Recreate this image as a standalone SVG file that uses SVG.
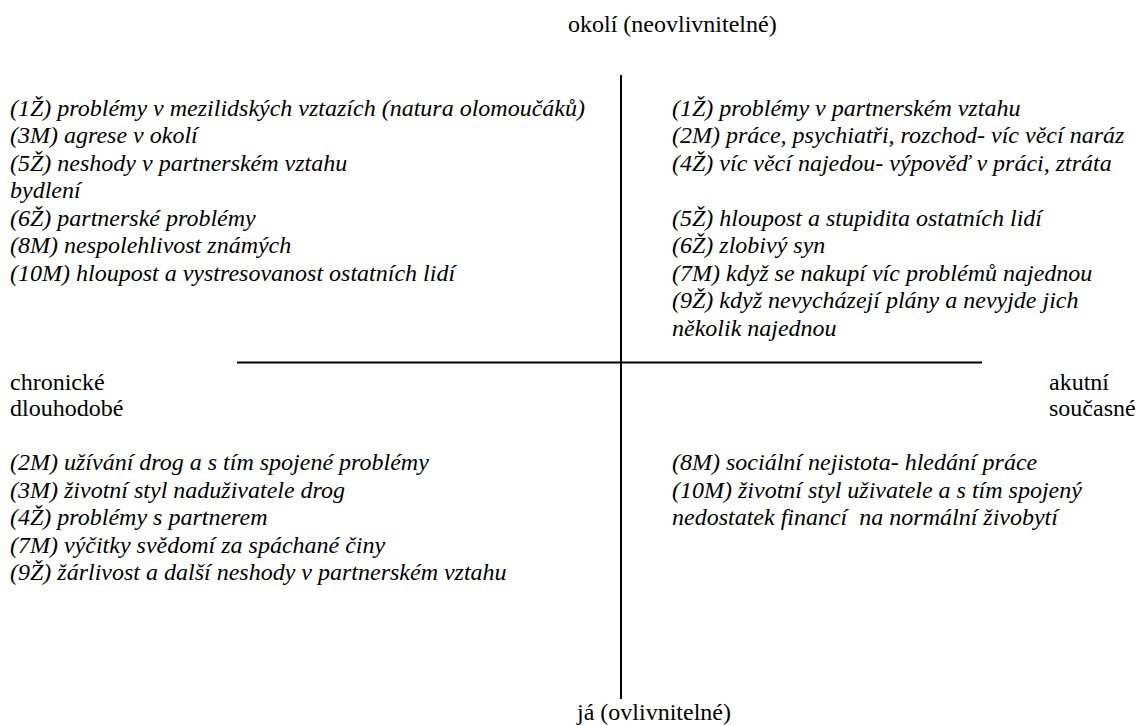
<svg xmlns="http://www.w3.org/2000/svg" width="1139" height="725" viewBox="0 0 1139 725" font-family="'Liberation Serif', 'Times New Roman', serif" font-size="24">
<style>
text{font-family:'Liberation Serif','Times New Roman',serif;font-size:24px;fill:#000;white-space:pre}
.it{font-style:italic}
.ax{stroke:#000;stroke-width:2;fill:none}
</style>
<rect width="1139" height="725" fill="#fff"/>
<g id="axes">
<line class="ax" x1="621" y1="75" x2="621" y2="699"/>
<line class="ax" x1="237" y1="362.5" x2="982" y2="362.5"/>
</g>
<g id="label-top"><text x="568" y="32">okolí (neovlivnitelné)</text></g>
<g id="label-bottom"><text x="577" y="720">já (ovlivnitelné)</text></g>
<g id="label-left"><text x="10" y="390">chronické</text><text x="10" y="416">dlouhodobé</text></g>
<g id="label-right"><text x="1049" y="390">akutní</text><text x="1049" y="416">současné</text></g>
<g id="quadrant-top-left">
<text class="it" x="10" y="115.5">(1Ž) problémy v mezilidských vztazích (natura olomoučáků)</text>
<text class="it" x="10" y="143">(3M) agrese v okolí</text>
<text class="it" x="10" y="170.5">(5Ž) neshody v partnerském vztahu</text>
<text class="it" x="10" y="198">bydlení</text>
<text class="it" x="10" y="225.5">(6Ž) partnerské problémy</text>
<text class="it" x="10" y="253">(8M) nespolehlivost známých</text>
<text class="it" x="10" y="280.5">(10M) hloupost a vystresovanost ostatních lidí</text>
</g>
<g id="quadrant-top-right">
<text class="it" x="672" y="115.5">(1Ž) problémy v partnerském vztahu</text>
<text class="it" x="672" y="143">(2M) práce, psychiatři, rozchod- víc věcí naráz</text>
<text class="it" x="672" y="170.5">(4Ž) víc věcí najedou- výpověď v práci, ztráta</text>
<text class="it" x="672" y="225.5">(5Ž) hloupost a stupidita ostatních lidí</text>
<text class="it" x="672" y="253">(6Ž) zlobivý syn</text>
<text class="it" x="672" y="280.5">(7M) když se nakupí víc problémů najednou</text>
<text class="it" x="672" y="308">(9Ž) když nevycházejí plány a nevyjde jich</text>
<text class="it" x="672" y="335.5">několik najednou</text>
</g>
<g id="quadrant-bottom-left">
<text class="it" x="10" y="470">(2M) užívání drog a s tím spojené problémy</text>
<text class="it" x="10" y="497.5">(3M) životní styl naduživatele drog</text>
<text class="it" x="10" y="525">(4Ž) problémy s partnerem</text>
<text class="it" x="10" y="552.5">(7M) výčitky svědomí za spáchané činy</text>
<text class="it" x="10" y="580">(9Ž) žárlivost a další neshody v partnerském vztahu</text>
</g>
<g id="quadrant-bottom-right">
<text class="it" x="672" y="470">(8M) sociální nejistota- hledání práce</text>
<text class="it" x="672" y="497.5">(10M) životní styl uživatele a s tím spojený</text>
<text class="it" x="672" y="525">nedostatek financí  na normální živobytí</text>
</g>
</svg>
